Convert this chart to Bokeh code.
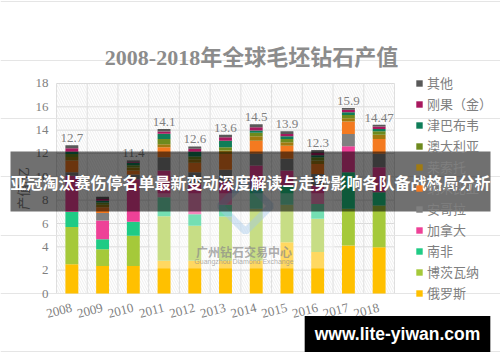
from bokeh.plotting import figure
from bokeh.models import (ColumnDataSource, Range1d, FixedTicker, Legend,
                          LegendItem, Label, BoxAnnotation)
from bokeh.core.properties import value
from bokeh.embed import file_html
from bokeh.resources import INLINE

years = ["2008", "2009", "2010", "2011", "2012", "2013", "2014", "2015", "2016", "2017", "2018"]
series_names = ["俄罗斯", "博茨瓦纳", "南非", "加拿大", "安哥拉", "纳米比亚", "莱索托",
                "澳大利亚", "津巴布韦", "刚果（金）", "其他"]
russia   = [2.50, 2.35, 2.35, 2.80, 2.80, 2.80, 2.83, 4.40, 3.55, 4.11, 3.97]
botswana = [3.20, 1.45, 2.60, 3.83, 3.00, 3.80, 4.43, 3.20, 2.85, 3.15, 3.57]
s_africa = [1.30, 0.85, 1.20, 1.63, 1.00, 1.00, 1.71, 1.65, 1.28, 3.14, 1.14]
canada   = [3.10, 1.60, 3.65, 2.28, 2.60, 2.00, 2.00, 1.29, 1.57, 2.22, 2.15]
angola   = [0.30, 0.65, 0.40, 1.14, 1.00, 1.00, 1.00, 1.00, 1.00, 1.06, 1.14]
namibia  = [1.00, 0.50, 0.35, 0.86, 0.80, 1.35, 1.13, 1.13, 0.86, 1.06, 1.28]
lesotho  = [0.30, 0.20, 0.25, 0.25, 0.30, 0.30, 0.38, 0.30, 0.30, 0.29, 0.35]
australia= [0.25, 0.20, 0.20, 0.45, 0.25, 0.29, 0.29, 0.28, 0.27, 0.28, 0.31]
zimbabwe = [0.20, 0.15, 0.20, 0.45, 0.40, 0.56, 0.20, 0.23, 0.17, 0.23, 0.20]
drc      = [0.30, 0.15, 0.10, 0.20, 0.25, 0.30, 0.28, 0.20, 0.20, 0.20, 0.20]
others   = [0.25, 0.20, 0.10, 0.21, 0.20, 0.20, 0.25, 0.22, 0.25, 0.16, 0.16]
total_labels = ["12.7", "", "11.4", "14.1", "12.6", "13.6", "14.5", "13.9", "12.3", "15.9", "14.47"]
y_ticks = [0, 2, 4, 6, 8, 10, 12, 14, 16, 18]

series_values = [russia, botswana, s_africa, canada, angola, namibia, lesotho,
                 australia, zimbabwe, drc, others]
colors = ["#FFC000", "#A5C93A", "#1FCB85", "#EE4197", "#808080", "#F47A20", "#A07A10",
          "#6E8A1E", "#0F7D58", "#A8185E", "#595959"]

n = len(years)
centers = [i + 0.5 for i in range(n)]
keys = ["s%d" % i for i in range(len(series_values))]
data = {"x": centers}
for k, vals in zip(keys, series_values):
    data[k] = vals
data["total"] = [sum(v[i] for v in series_values) for i in range(n)]
data["label"] = total_labels
src = ColumnDataSource(data)

SERIF = "'Liberation Serif', 'Noto Sans CJK SC'"
CJK = "'Noto Sans CJK SC'"
GRAY = "#7f7f7f"

# the frame covers the whole canvas; the chart area (0..11, 0..18) sits inside it
p = figure(width=500, height=362, x_range=Range1d(-1.8225, 14.45), y_range=Range1d(-5.914, 25.114),
           output_backend="svg", toolbar_location=None, title=None, y_axis_location=None,
           min_border=0, min_border_left=0, min_border_right=0, min_border_top=0, min_border_bottom=0)
p.outline_line_color = None
p.background_fill_color = "white"
p.border_fill_color = "white"
p.xgrid.visible = False

ymax = y_ticks[-1]
# faint hatched plot background
p.add_layout(BoxAnnotation(left=0, right=n, bottom=0, top=ymax, fill_alpha=0, line_alpha=0,
                           hatch_pattern="\\", hatch_color="#e2e2e2", hatch_scale=5,
                           hatch_weight=0.6, level="underlay"))
# grid lines of the chart area
p.segment(x0=[0] * len(y_ticks), x1=[n] * len(y_ticks), y0=y_ticks, y1=y_ticks,
          line_color="#d9d9d9", line_width=1, level="underlay")
xb = list(range(n + 1))
p.segment(x0=xb, x1=xb, y0=[0] * len(xb), y1=[ymax] * len(xb),
          line_color="#dedede", line_width=1, level="underlay")

renderers = p.vbar_stack(keys, x="x", width=0.42, color=colors, source=src, line_width=0)

p.text(x="x", y="total", text="label", source=src, text_font=value(SERIF),
       text_font_size="13px", text_color=GRAY, text_align="center", text_baseline="bottom",
       y_offset=-3)

# y tick labels, placed through the y scale at the chart's left edge
p.text(x=[0] * len(y_ticks), y=y_ticks, text=[str(t) for t in y_ticks], x_offset=-8,
       text_font=value("'Liberation Serif'"), text_font_size="13px", text_color=GRAY,
       text_align="right", text_baseline="middle")
p.add_layout(Label(x=-1.07, y=ymax / 2, text="产值/亿", text_font=SERIF, text_font_size="13px",
                   text_color=GRAY, angle=1.5708, text_align="center", text_baseline="middle"))

# x axis drawn at y = 0 inside the frame
xax = p.xaxis[0]
xax.fixed_location = 0
xax.bounds = (0, n)
xax.ticker = FixedTicker(ticks=centers)
xax.major_label_overrides = {c: y for c, y in zip(centers, years)}
xax.axis_line_color = None
xax.major_tick_line_color = None
xax.minor_tick_line_color = None
xax.major_label_standoff = 8
xax.major_label_orientation = 0.26
xax.major_label_text_font = SERIF
xax.major_label_text_font_size = "13px"
xax.major_label_text_color = GRAY

# legend (reverse order, top = last stacked series)
items = [LegendItem(label=nm, renderers=[r]) for nm, r in zip(series_names, renderers)][::-1]
legend = Legend(items=items, location=(415, 59), margin=0, padding=0, spacing=0,
                label_height=21, glyph_width=8, glyph_height=8, label_standoff=4,
                label_text_font=CJK, label_text_font_size="13px", label_text_color=GRAY,
                border_line_alpha=0, background_fill_alpha=0)
p.add_layout(legend)

# title
p.add_layout(Label(x=6.346, y=20.23, text="2008-2018年全球毛坯钻石产值", text_font=SERIF,
                   text_font_size="22px", text_font_style="bold", text_color="#8c8c8c",
                   text_align="center", text_baseline="middle"))

# watermark
p.add_layout(BoxAnnotation(left=3.05, right=9.05, bottom=2.14, top=8.6, fill_color="white",
                           fill_alpha=0.38, line_alpha=0))
p.scatter(x=[6.15], y=[7.5], marker="square", size=36, angle=0.785, fill_alpha=0,
          line_color="#6fa8dc", line_alpha=0.45, line_width=7)
p.add_layout(Label(x=6.1, y=3.6, text="广州钻石交易中心", text_font=CJK, text_font_size="12px",
                   text_font_style="bold", text_color="#8a8a8a", text_alpha=0.7,
                   text_align="center", text_baseline="middle"))
p.add_layout(Label(x=6.1, y=2.72, text="Guangzhou Diamond Exchange", text_font="'Liberation Sans'",
                   text_font_size="7px", text_color="#8a8a8a", text_alpha=0.7,
                   text_align="center", text_baseline="middle"))

# overlay banner
p.add_layout(Label(x=6.314, y=9.6, text="亚冠淘汰赛伤停名单最新变动深度解读与走势影响各队备战格局分析",
                   text_font=CJK, text_font_size="16px", text_font_style="bold", text_color="white",
                   text_align="center", text_baseline="middle",
                   background_fill_color="black", background_fill_alpha=0.56,
                   padding=dict(top=18, right=0, bottom=18, left=0)))

# bottom-right site box
p.add_layout(Label(x=11.098, y=-3.47, text="www.lite-yiwan.com", text_font="'Liberation Sans'",
                   text_font_size="17.5px", text_font_style="bold", text_color="white",
                   text_align="center", text_baseline="middle",
                   background_fill_color="black", background_fill_alpha=1.0,
                   padding=dict(top=8, right=10, bottom=8, left=10)))

open("out.html", "w").write(file_html(p, INLINE))
